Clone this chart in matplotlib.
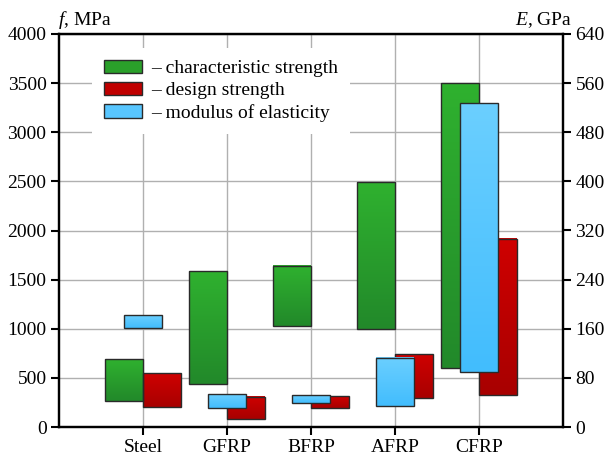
import numpy as np
import matplotlib
matplotlib.use("Agg")
import matplotlib.pyplot as plt
from matplotlib.colors import LinearSegmentedColormap
from matplotlib.patches import Patch

plt.rcParams['font.family'] = ['Liberation Serif', 'DejaVu Serif']
plt.rcParams['mathtext.fontset'] = 'custom'
plt.rcParams['mathtext.rm'] = 'Liberation Serif'
plt.rcParams['mathtext.it'] = 'Liberation Serif:italic'

# ---- data ----
categories = ["Steel", "GFRP", "BFRP", "AFRP", "CFRP"]
char_low = [265, 440, 1027, 1000, 600]      # MPa
char_high = [690, 1590, 1640, 2490, 3500]
design_low = [204, 82, 194, 293, 323]       # MPa
design_high = [548, 310, 313, 738, 1915]
mod_low = [162, 31, 39, 34, 90]             # GPa
mod_high = [183, 53, 52, 113, 528]
left_ticks = [0, 500, 1000, 1500, 2000, 2500, 3000, 3500, 4000]
right_ticks = [0, 80, 160, 240, 320, 400, 480, 560, 640]
labels = ["– characteristic strength", "– design strength", "– modulus of elasticity"]

green = ("#2fb12f", "#22892a", "#2aa02a")
red = ("#cf0000", "#a80000", "#c00000")
blue = ("#6bcfff", "#42bdfd", "#58c6ff")
edge = "#2a2a2a"
FS = 14

fig = plt.figure(figsize=(6.09, 4.58), dpi=100)
ax = fig.add_axes([59/609, 1-427/458, (563-59)/609, (427-34)/458])
ax2 = ax.twinx()

x = np.arange(len(categories))
w = 0.45


def grad_bars(axis, xs, lo, hi, cols, z):
    lo = np.asarray(lo, float)
    hi = np.asarray(hi, float)
    bars = axis.bar(xs, hi - lo, width=w, bottom=lo, align='edge',
                    facecolor='none', edgecolor=edge, linewidth=1.0, zorder=z + 0.5)
    cmap = LinearSegmentedColormap.from_list('g', [cols[1], cols[0]])
    g = np.linspace(0, 1, 64).reshape(-1, 1)
    for b in bars:
        x0, y0 = b.get_x(), b.get_y()
        axis.imshow(g, extent=(x0, x0 + b.get_width(), y0, y0 + b.get_height()),
                    origin='lower', cmap=cmap, aspect='auto', zorder=z,
                    interpolation='bilinear')
    return bars


grad_bars(ax, x - w, char_low, char_high, green, 3)
grad_bars(ax, x, design_low, design_high, red, 3)
grad_bars(ax2, x - w / 2, mod_low, mod_high, blue, 3)

ax.set_xlim(-1, 5)
ax.set_ylim(0, 4000)
ax2.set_ylim(0, 640)
ax.set_xticks(x)
ax.set_xticklabels(categories)
ax.set_yticks(left_ticks)
ax2.set_yticks(right_ticks)

ax.set_axisbelow(True)
ax.grid(True, color="#b0b0b0", linewidth=1.0)
for s in ax.spines.values():
    s.set_linewidth(1.6)
for s in ax2.spines.values():
    s.set_linewidth(1.6)
ax.tick_params(axis='both', which='major', direction='out', length=6, width=1.5,
               labelsize=FS, pad=3)
ax2.tick_params(axis='y', direction='out', length=6, width=1.5, labelsize=FS, pad=3)

fig.text(58/609, 1-25/458, "$f$, MPa", ha='left', va='baseline', fontsize=FS)
fig.text(572/609, 1-25/458, "$E$, GPa", ha='right', va='baseline', fontsize=FS)

handles = [Patch(facecolor=c[2], edgecolor=edge, linewidth=1.0) for c in (green, red, blue)]
leg = ax2.legend(handles, labels, loc='upper left',
                 bbox_to_anchor=(92/609, 1-48/458), bbox_transform=fig.transFigure,
                 fontsize=FS, frameon=True, fancybox=False, framealpha=1,
                 facecolor='white', edgecolor='none', handlelength=1.95,
                 handleheight=0.68, handletextpad=0.5, labelspacing=0.24,
                 borderpad=0.6, borderaxespad=0)
leg.set_zorder(10)

fig.savefig("out.png", dpi=100)
